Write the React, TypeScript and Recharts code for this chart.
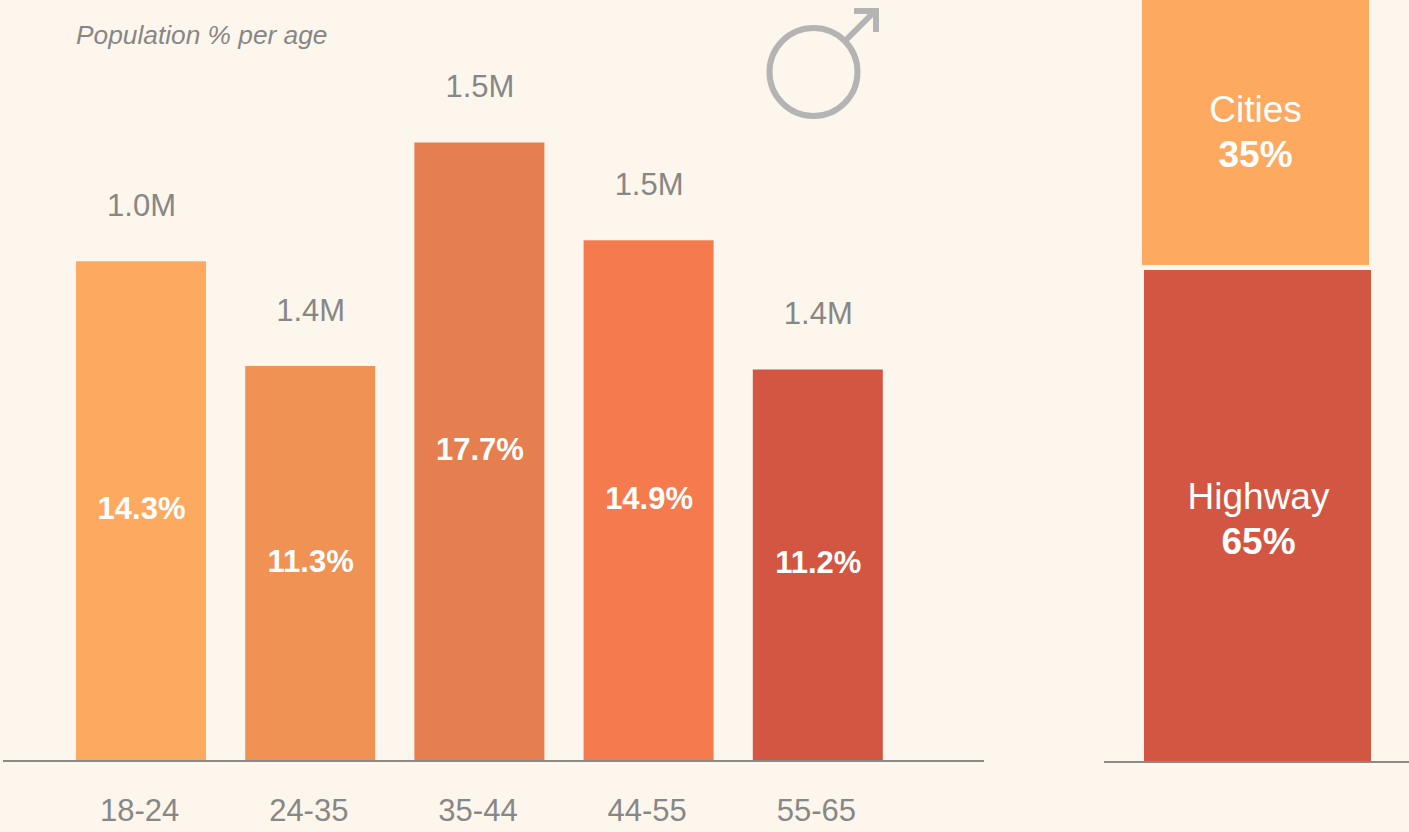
import React from "react";
import { BarChart, Bar, XAxis, YAxis, Cell, LabelList } from "recharts";

const ageGroups = ["18-24", "24-35", "35-44", "44-55", "55-65"];
const populationPercent = [14.3, 11.3, 17.7, 14.9, 11.2];
const populationMillions = ["1.0M", "1.4M", "1.5M", "1.5M", "1.4M"];
const ageColors = ["#FDA95F", "#F09254", "#E57F4F", "#F57B4E", "#D35642"];
const highwayShare = 65;
const citiesShare = 35;
const highwayColor = "#D35642";
const citiesColor = "#FDA95F";

const ageData = ageGroups.map((age, i) => ({
  age,
  percent: populationPercent[i],
  millions: populationMillions[i],
}));
const roadData = [{ name: "Road", Highway: highwayShare, Cities: citiesShare }];

const FONT = "'Liberation Sans', Arial, sans-serif";
const GREY = "#878787";
const BG = "#FDF6EC";
const AXIS = "#8A8A8A";

const PercentLabel = (p: any) => (
  <text x={p.x + p.width / 2 + 0.5} y={p.y + p.height / 2 - 2.5} textAnchor="middle" dominantBaseline="central"
    fontFamily={FONT} fontWeight="bold" fontSize={31} fill="#FFFFFF">
    {p.value}%
  </text>
);

const MillionsLabel = (p: any) => (
  <text x={p.x + p.width / 2 + 0.5} y={p.y - 56} textAnchor="middle" dominantBaseline="central"
    fontFamily={FONT} fontSize={31} fill={GREY}>
    {p.value}
  </text>
);

const roadLabel = (name: string, dx: number, dy: number) => (p: any) => {
  const cx = p.x + p.width / 2 + dx;
  const cy = p.y + p.height / 2 + dy;
  return (
    <g fontFamily={FONT} fontSize={37} fill="#FFFFFF" textAnchor="middle">
      <text x={cx} y={cy - 21} dominantBaseline="central">{name}</text>
      <text x={cx} y={cy + 24} dominantBaseline="central" fontWeight="bold">{p.value}%</text>
    </g>
  );
};

const CitiesShape = (p: any) => (
  <rect x={p.x - 2} y={p.y - 5} width={p.width} height={p.height} fill={p.fill} />
);

export default function App() {
  return (
    <div style={{ position: "absolute", left: 0, top: 0, width: 1409, height: 832, background: BG, overflow: "hidden" }}>
      <div style={{ position: "absolute", left: 0, top: 0 }}>
        <BarChart width={984} height={832} data={ageData} margin={{ top: 62, right: 0, bottom: 0, left: 3 }}>
          <XAxis dataKey="age" axisLine={{ stroke: AXIS, strokeWidth: 2 }} tickLine={false} interval={0}
            padding={{ left: 53, right: 82 }} tickMargin={32}
            tick={{ fontFamily: FONT, fontSize: 31, fill: GREY, dx: -1 }} height={71} />
          <YAxis hide domain={[0, 20]} />
          <Bar dataKey="percent" barSize={130} isAnimationActive={false}>
            {ageData.map((d, i) => <Cell key={d.age} fill={ageColors[i]} />)}
            <LabelList dataKey="percent" content={PercentLabel} />
            <LabelList dataKey="millions" content={MillionsLabel} />
          </Bar>
        </BarChart>
      </div>
      <div style={{ position: "absolute", left: 1104, top: 0 }}>
        <BarChart width={305} height={832} data={roadData} margin={{ top: 5, right: 0, bottom: 0, left: 0 }}>
          <XAxis dataKey="name" axisLine={{ stroke: AXIS, strokeWidth: 2 }} tickLine={false} tick={false}
            padding={{ left: 2, right: 0 }} height={70} />
          <YAxis hide domain={[0, 100]} />
          <Bar dataKey="Highway" stackId="road" barSize={227} fill={highwayColor} isAnimationActive={false}>
            <LabelList dataKey="Highway" content={roadLabel("Highway", 1, 2)} />
          </Bar>
          <Bar dataKey="Cities" stackId="road" barSize={227} fill={citiesColor} shape={CitiesShape} isAnimationActive={false}>
            <LabelList dataKey="Cities" content={roadLabel("Cities", -2, -6.5)} />
          </Bar>
        </BarChart>
      </div>
      <svg width={1409} height={832} style={{ position: "absolute", left: 0, top: 0, pointerEvents: "none" }}>
        <text x={76} y={44} fontFamily={FONT} fontStyle="italic" fontSize={26.3} fill={GREY}>Population % per age</text>
        <g fill="none" stroke="#B4B4B4" strokeWidth={6}>
          <circle cx={813.5} cy={72} r={44} />
          <path d="M846 40 L875 11" />
          <path d="M854 11 H876 V32" />
        </g>
      </svg>
    </div>
  );
}
